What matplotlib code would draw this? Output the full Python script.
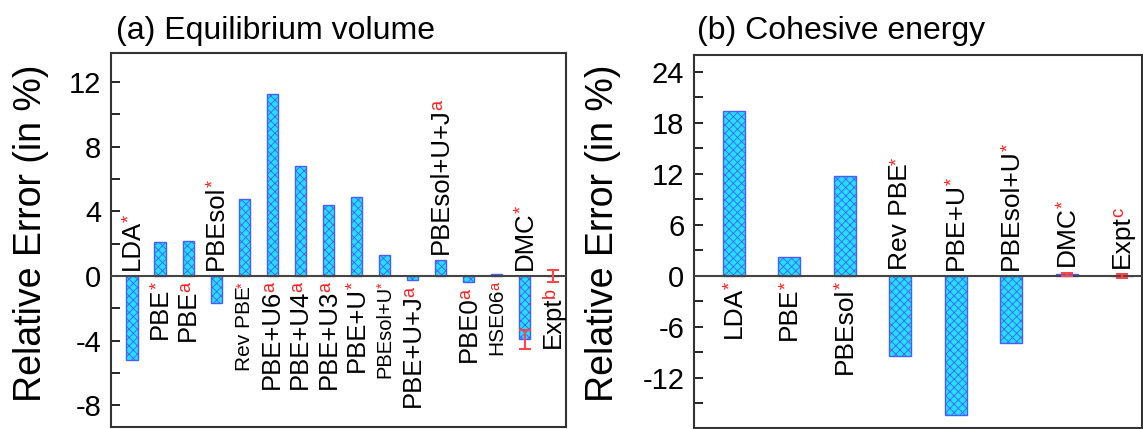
import numpy as np
import matplotlib
matplotlib.use('Agg')
import matplotlib.pyplot as plt
from matplotlib.ticker import MultipleLocator

plt.rcParams['font.family'] = ['Liberation Sans', 'DejaVu Sans']
plt.rcParams['axes.unicode_minus'] = False
plt.rcParams['hatch.linewidth'] = 0.6

# (a) equilibrium volume, relative error in %
vol_methods = ['LDA', 'PBE', 'PBE', 'PBEsol', 'Rev PBE', 'PBE+U6', 'PBE+U4', 'PBE+U3',
               'PBE+U', 'PBEsol+U', 'PBE+U+J', 'PBEsol+U+J', 'PBE0', 'HSE06', 'DMC', 'Expt']
vol_refs = ['*', '*', 'a', '*', '*', 'a', 'a', 'a', '*', '*', 'a', 'a', 'a', 'a', '*', 'b']
vol_err = [-5.18, 2.1, 2.15, -1.65, 4.77, 11.29, 6.81, 4.4, 4.9, 1.28,
           -0.27, 0.97, -0.4, 0.14, -3.93, 0.0]
vol_unc = [0, 0, 0, 0, 0, 0, 0, 0, 0, 0, 0, 0, 0, 0, 0.57, 0.37]
vol_side = ['up', 'down', 'down', 'up', 'down', 'down', 'down', 'down',
            'down', 'down', 'down', 'up', 'down', 'down', 'up', 'down']

# (b) cohesive energy, relative error in %
coh_methods = ['LDA', 'PBE', 'PBEsol', 'Rev PBE', 'PBE+U', 'PBEsol+U', 'DMC', 'Expt']
coh_refs = ['*', '*', '*', '*', '*', '*', '*', 'c']
coh_err = [19.4, 2.27, 11.8, -9.37, -16.35, -7.9, 0.2, 0.0]
coh_unc = [0, 0, 0, 0, 0, 0, 0.2, 0.2]
coh_side = ['down', 'down', 'down', 'up', 'up', 'up', 'up', 'up']

# a few labels were squeezed in smaller
small = {'Rev PBE': 15, 'PBEsol+U': 14.5, 'HSE06': 15}

fig = plt.figure(figsize=(11.43, 4.29), dpi=100)
W, H = 1143, 429
ax1 = fig.add_axes([111 / W, 2 / H, 455 / W, 374 / H])
ax2 = fig.add_axes([694 / W, 1 / H, 448 / W, 373 / H])

labels_down = []


def draw_panel(ax, names, refs, vals, unc, sides, base_size, small_sizes):
    x = np.arange(len(vals))
    vals = np.array(vals)
    unc = np.array(unc)
    ax.bar(x, vals, width=0.4, color='#22e0ff', edgecolor='#4a5cff',
           hatch='xxxx', linewidth=1.0, zorder=2)
    m = unc > 0
    ax.errorbar(x[m], vals[m], yerr=unc[m], fmt='none', ecolor='#ff4545',
                capsize=4, elinewidth=1.5, capthick=1.5, zorder=4)
    ax.axhline(0, color='#444444', lw=1.5, zorder=3)

    for xi, n, r, v, u, s in zip(x, names, refs, vals, unc, sides):
        fs = small_sizes.get(n, base_size)
        if s == 'up':
            t = ax.annotate(n, (xi, max(0, v + u)), xytext=(0, 4.5), textcoords='offset points',
                            rotation=90, ha='center', va='bottom', fontsize=fs)
        else:
            t = ax.annotate(n, (xi, min(0, v - u)), xytext=(0, -4.5), textcoords='offset points',
                            rotation=90, ha='center', va='top', fontsize=fs)
        sup = ax.annotate(r, xy=(0, 1), xycoords=t, xytext=(0.5, -1.5), textcoords='offset points',
                          rotation=90, ha='left', va='bottom', fontsize=fs * 0.7,
                          color='#ff2020')
        if s == 'down':
            labels_down.append((t, sup))

    ax.set_xticks([])
    ax.tick_params(axis='y', which='both', direction='in', length=6.5, width=1.2,
                   labelsize=21, pad=7, right=False)
    for sp in ax.spines.values():
        sp.set_linewidth(1.5)
        sp.set_color('#333333')


draw_panel(ax1, vol_methods, vol_refs, vol_err, vol_unc, vol_side, 18.5, small)
ax1.set_xlim(-0.75, 15.47)
ax1.set_ylim(-9.35, 13.8)
ax1.set_yticks([-8, -4, 0, 4, 8, 12])
ax1.yaxis.set_minor_locator(MultipleLocator(2))

draw_panel(ax2, coh_methods, coh_refs, coh_err, coh_unc, coh_side, 19, {})
ax2.set_xlim(-0.72, 7.36)
ax2.set_ylim(-17.9, 26)
ax2.set_yticks([-12, -6, 0, 6, 12, 18, 24])
ax2.yaxis.set_minor_locator(MultipleLocator(3))

fig.text(31 / W, 1 - 233 / H, 'Relative Error (in %)', rotation=90, ha='center',
         va='center', fontsize=27)
fig.text(603 / W, 1 - 233 / H, 'Relative Error (in %)', rotation=90, ha='center',
         va='center', fontsize=27)
fig.text(116 / W, 1 - 39 / H, '(a) Equilibrium volume', ha='left', va='baseline', fontsize=23)
fig.text(697 / W, 1 - 39 / H, '(b) Cohesive energy', ha='left', va='baseline', fontsize=23)

# push the "below" labels down so that the superscript ends near the anchor
fig.canvas.draw()
for t, sup in labels_down:
    h = sup.get_window_extent().height * 72 / fig.dpi
    t.xyann = (0, -3.0 - h)

fig.savefig('out.png', dpi=100)
